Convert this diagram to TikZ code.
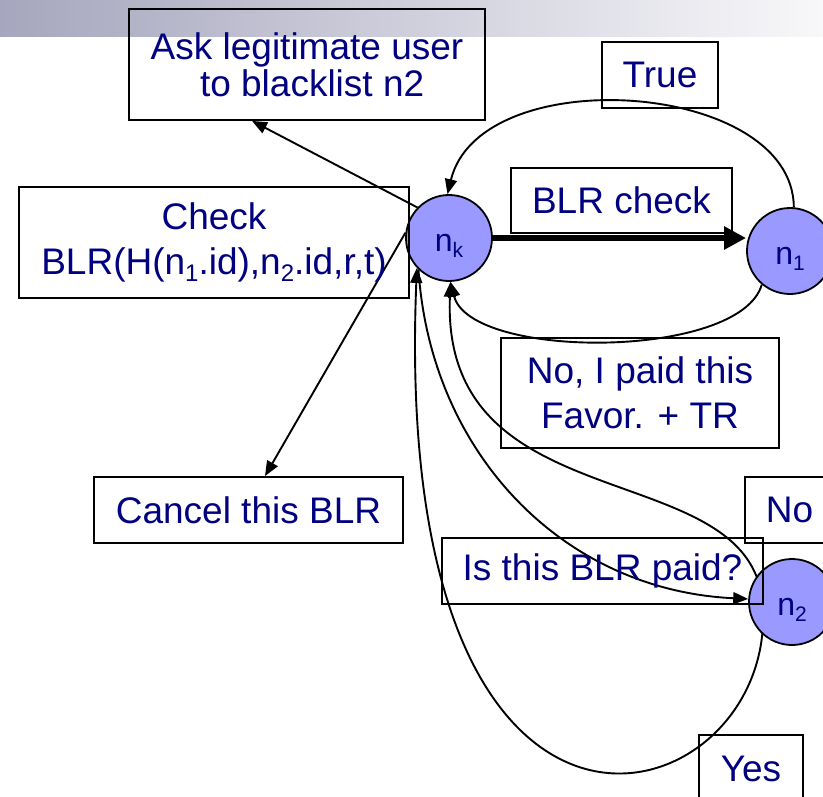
\documentclass[tikz,border=0pt]{standalone}
\usepackage{fontspec}
\setmainfont{Liberation Sans}
\usetikzlibrary{arrows.meta,calc}
\definecolor{ink}{RGB}{0,0,128}
\definecolor{peri}{RGB}{153,153,255}
\definecolor{barL}{RGB}{166,166,190}
\definecolor{barR}{RGB}{248,248,250}
\pgfdeclarelayer{back}
\pgfsetlayers{back,main}
% lowered indices for box text and for node labels
\newcommand\lowA[1]{\raisebox{-7pt}{\fontsize{24}{24}\selectfont #1}}
\newcommand\lowB[1]{\raisebox{-6.5pt}{\fontsize{21}{21}\selectfont #1}}
\begin{document}
\begin{tikzpicture}[x=1pt,y=-1pt,
  box/.style={draw=black,line width=1.8pt,text=ink,align=center,inner sep=0pt,
    font=\fontsize{37}{45}\selectfont},
  dot/.style={circle,draw=black,line width=1.8pt,fill=peri,text=ink,
    minimum size=86pt,inner sep=0pt,text height=33pt,text depth=6.5pt,
    font=\fontsize{32}{32}\selectfont},
  link/.style={line width=1.9pt,-{Triangle[length=15pt,width=12pt]}},
  heavy/.style={line width=6.5pt,-{Triangle[length=22pt,width=22pt]}}]
\useasboundingbox (0,0) rectangle (823,797);
\clip (0,0) rectangle (823,797);

% title bar
\begin{pgfonlayer}{back}
  \shade[left color=barL,right color=barR] (0,0) rectangle (823,37);
\end{pgfonlayer}

% nodes
\node[dot] (nk) at (449,238) {n\lowB{k}};
\node[dot] (n1) at (790,251) {n\lowB{1}};
\node[dot] (n2) at (792,602) {n\lowB{2}};

% labels
\node[box,minimum width=356pt,minimum height=111pt,font=\fontsize{37}{37}\selectfont]
  (ask) at (307,64.5) {Ask legitimate user\\ \ to blacklist n2};
\node[box,minimum width=116pt,minimum height=66pt] (true) at (660,75) {True};
\node[box,minimum width=221pt,minimum height=65pt] (chk) at (621.5,200.5) {BLR check};
\node[box,minimum width=390pt,minimum height=111pt] (blr) at (214,242.5)
  {Check\\BLR(H(n\lowA{1}.id),n\lowA{2}.id,r,t)};
\node[box,minimum width=278pt,minimum height=110pt] (paid) at (640,393)
  {No, I paid this\\Favor. + TR};
\node[box,minimum width=309pt,minimum height=66pt] (cancel) at (248.5,510) {Cancel this BLR};
\node[box,minimum width=89pt,minimum height=66pt] (no) at (789.5,510) {No};
\node[box,minimum width=321pt,minimum height=66pt] (ask2) at (602.5,571) {Is this BLR paid?};
\node[box,minimum width=104pt,minimum height=67pt] (yes) at (751,768.5) {Yes};

% connectors
\begin{pgfonlayer}{back}
  \draw[heavy] (nk.east) -- (nk.east -| n1.west);
  \draw[link] (n1.85) .. controls (793,80) and (480,60) .. (nk.92);
  \draw[link] (n1.230) .. controls (740,360) and (470,360) .. (nk.272);
  \draw[link] (nk.136) -- ([xshift=-55pt]ask.south);
  \draw[link] (nk.173) -- ([xshift=16.5pt]cancel.north);
  \draw[link] (nk.226) .. controls (430,450) and (560,590) .. (n2.176);
  \draw[link] ($(n2)+(-29,10)$) .. controls (762,450) and (440,530) .. (nk.272);
  \draw[link] ($(n2)+(-29,10)$) .. controls (770,820) and (390,930) .. (nk.223);
\end{pgfonlayer}
\end{tikzpicture}
\end{document}
